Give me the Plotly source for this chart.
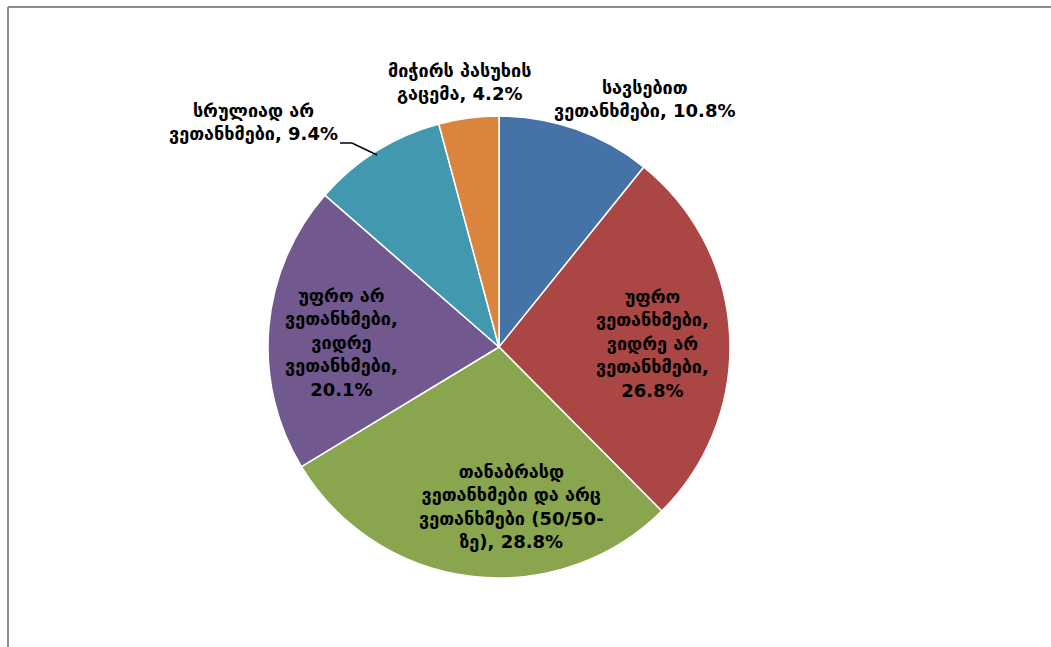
import plotly.graph_objects as go

# pie slices, clockwise from 12 o'clock
categories = [
    "სავსებით ვეთანხმები",
    "უფრო ვეთანხმები, ვიდრე არ ვეთანხმები",
    "თანაბრასდ ვეთანხმები და არც ვეთანხმები (50/50-ზე)",
    "უფრო არ ვეთანხმები, ვიდრე ვეთანხმები",
    "სრულიად არ ვეთანხმები",
    "მიჭირს პასუხის გაცემა",
]
values = [10.8, 26.8, 28.8, 20.1, 9.4, 4.2]
label_lines = [
    "სავსებით<br>ვეთანხმები, 10.8%",
    "უფრო<br>ვეთანხმები,<br>ვიდრე არ<br>ვეთანხმები,<br>26.8%",
    "თანაბრასდ<br>ვეთანხმები და არც<br>ვეთანხმები (50/50-<br>ზე), 28.8%",
    "უფრო არ<br>ვეთანხმები,<br>ვიდრე<br>ვეთანხმები,<br>20.1%",
    "სრულიად არ<br>ვეთანხმები, 9.4%",
    "მიჭირს პასუხის<br>გაცემა, 4.2%",
]
colors = ["#4572A7", "#AA4643", "#89A54E", "#71588F", "#4198AF", "#DB843D"]

W, H = 1051, 647
FONT = "DejaVu Sans"

fig = go.Figure()
fig.add_trace(go.Pie(
    labels=categories,
    values=values,
    textinfo="none",
    sort=False,
    direction="clockwise",
    rotation=0,
    marker=dict(colors=colors, line=dict(color="white", width=1.5)),
    domain=dict(x=[(499 - 231) / W, (499 + 231) / W], y=[1 - 578 / H, 1 - 116 / H]),
    showlegend=False,
    hoverinfo="label+percent",
))

# data labels, placed like the original (pixel centres)
label_pos = [(645, 99), (652, 343), (511, 506), (341, 342), (253, 122), (459, 82)]
for txt, (px_, py_) in zip(label_lines, label_pos):
    fig.add_annotation(
        x=px_ / W, y=1 - py_ / H, xref="paper", yref="paper",
        xanchor="center", yanchor="middle",
        text="<b>" + txt + "</b>", showarrow=False,
        font=dict(family=FONT, size=18, color="black"), align="center",
    )

# leader line for the teal slice
fig.add_shape(type="path", xref="paper", yref="paper",
              path=f"M {340/W} {1-143/H} L {352/W} {1-143/H} L {377/W} {1-155/H}",
              line=dict(color="black", width=1.5))

# chart frame (top and left edges visible)
fig.add_shape(type="line", xref="paper", yref="paper",
              x0=8 / W, x1=1, y0=1 - 7 / H, y1=1 - 7 / H,
              line=dict(color="#8c8c8c", width=2))
fig.add_shape(type="line", xref="paper", yref="paper",
              x0=8 / W, x1=8 / W, y0=0, y1=1 - 7 / H,
              line=dict(color="#8c8c8c", width=2))

fig.update_layout(
    width=W, height=H,
    margin=dict(l=0, r=0, t=0, b=0),
    paper_bgcolor="white",
    plot_bgcolor="white",
    font=dict(family=FONT),
)

fig.write_html("out.html", config={"displayModeBar": False},
               post_script="document.body.style.margin='0px';")
